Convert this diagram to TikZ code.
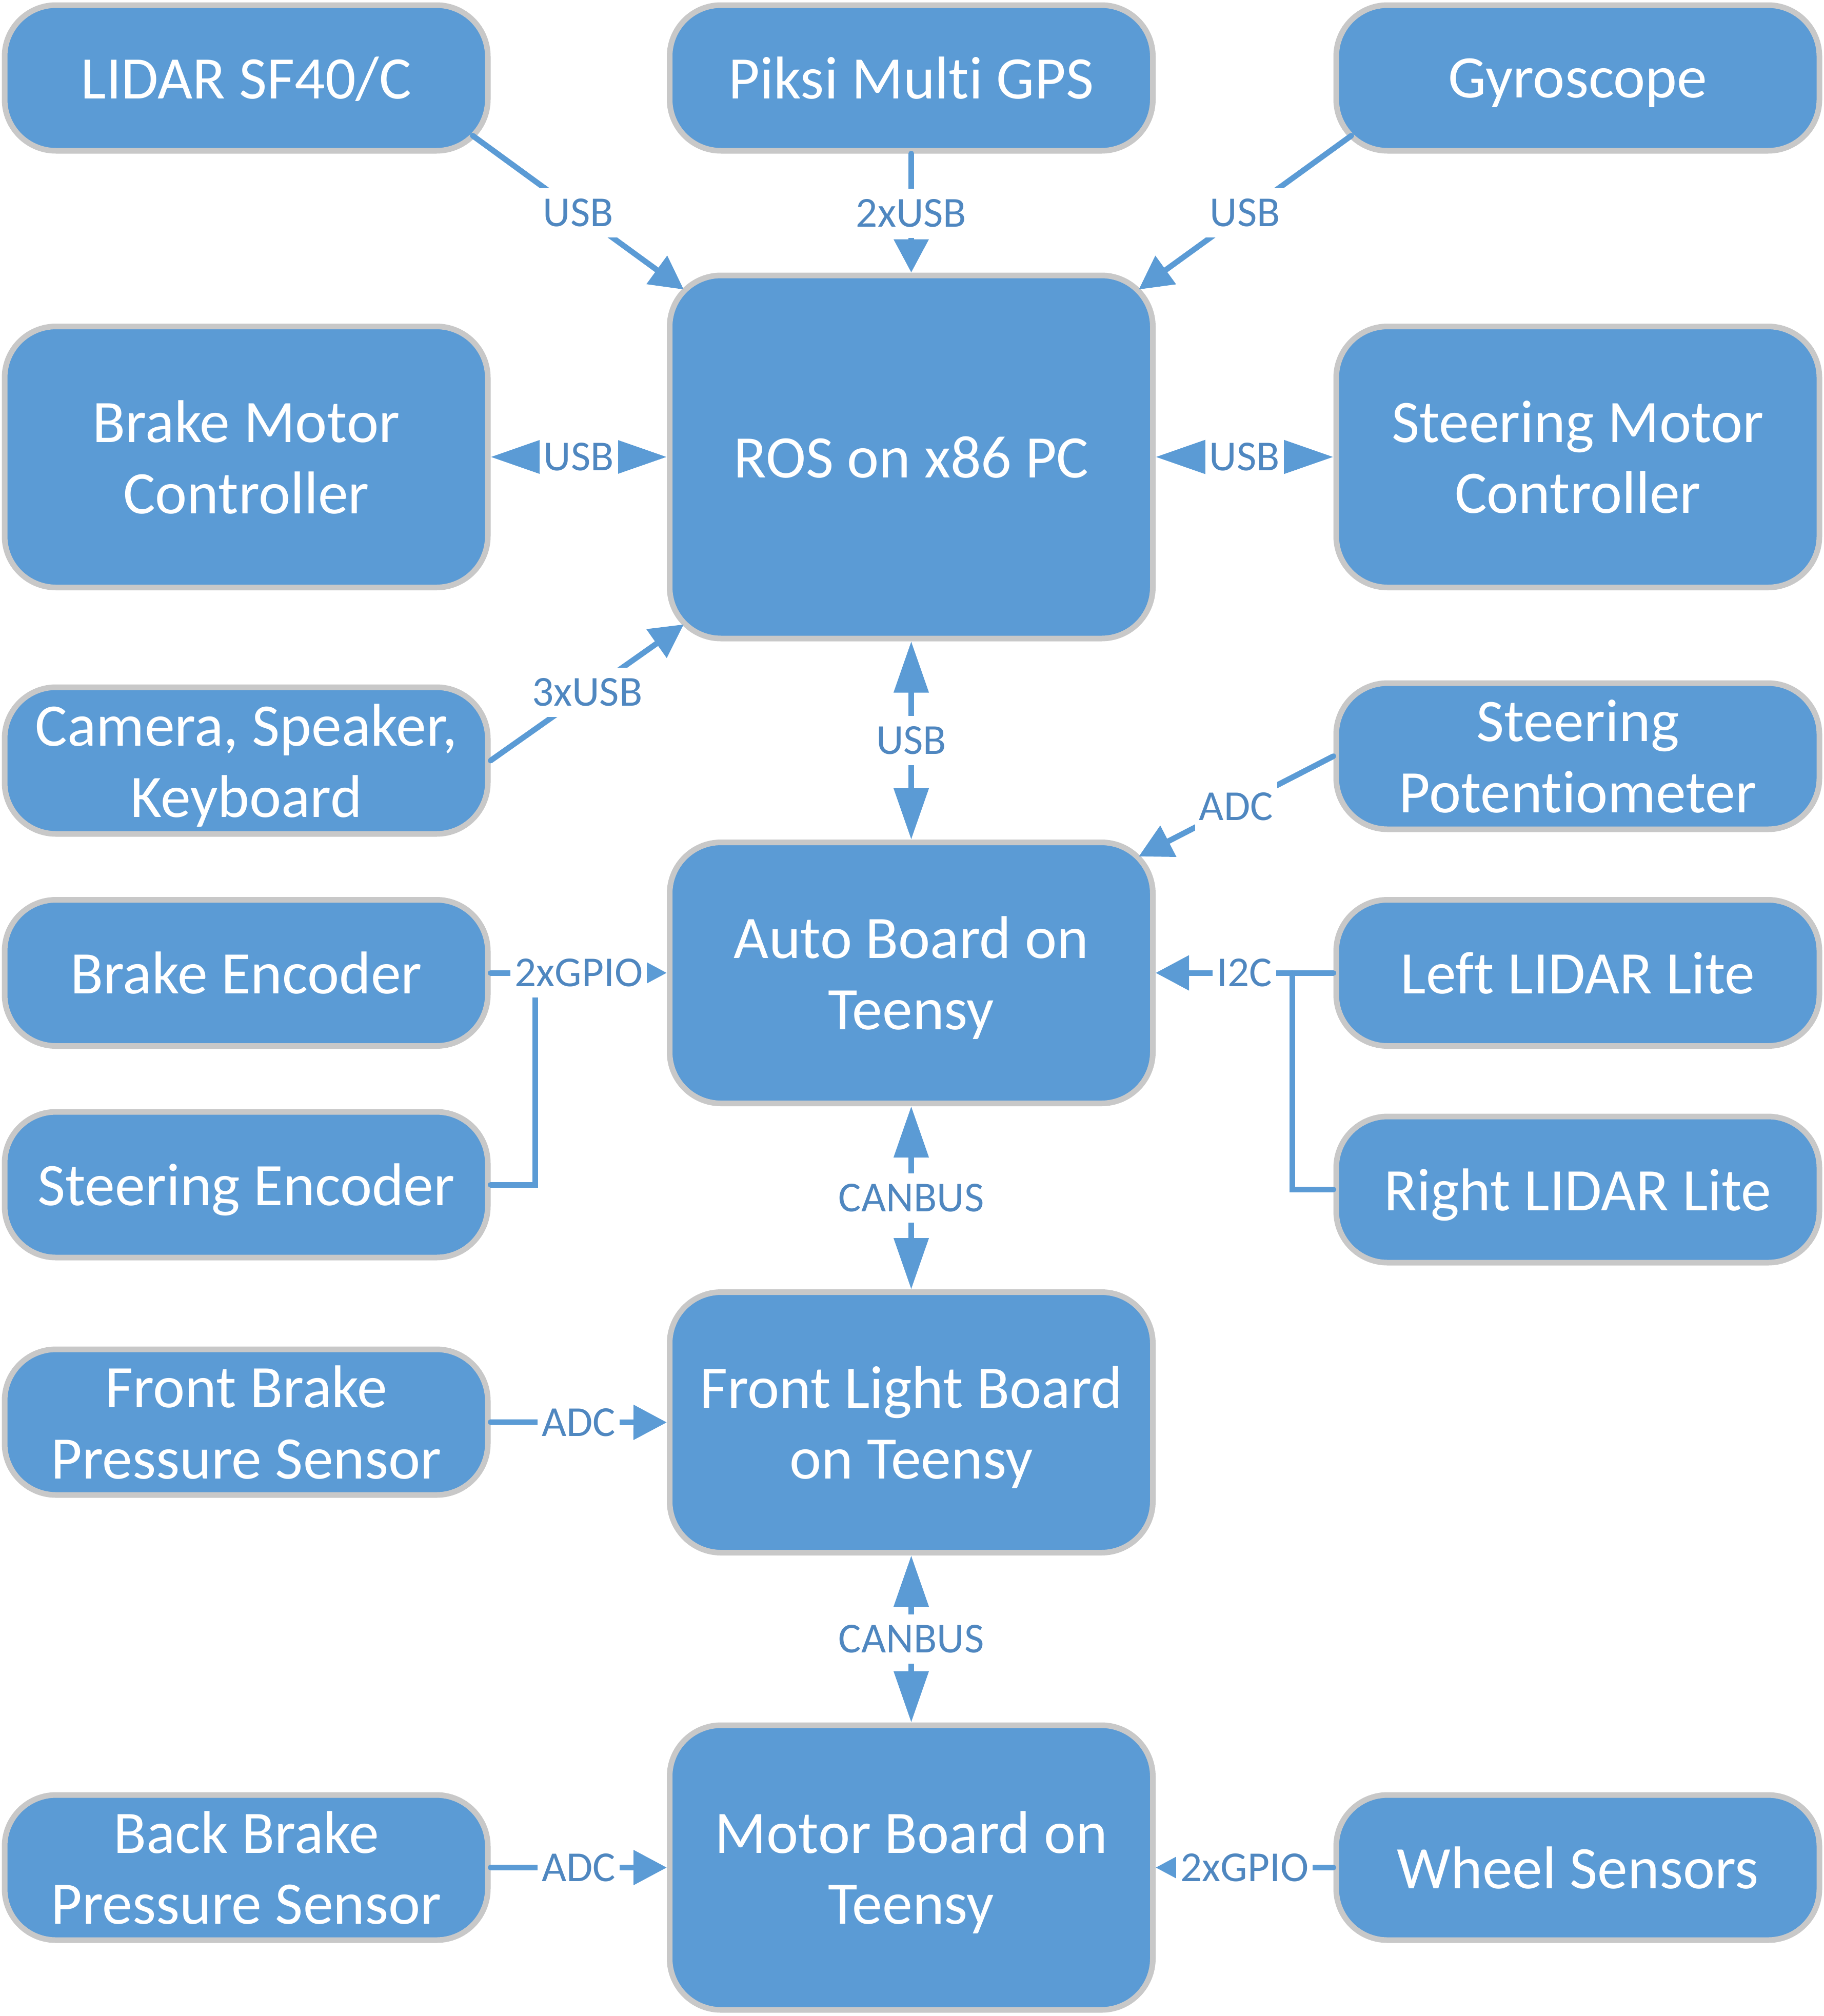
\documentclass[tikz,border=0pt]{standalone}
\usepackage{fontspec}
\setmainfont{Carlito}[Ligatures=NoCommon]
\usepackage{tikz}
\usetikzlibrary{arrows.meta}
\definecolor{boxblue}{HTML}{5B9BD5}
\definecolor{rimgray}{HTML}{C8C8C8}
\definecolor{tagblue}{HTML}{4F87C0}
\tikzset{
	block/.style={rectangle, rounded corners=1cm, draw=rimgray, line width=0.11cm, fill=boxblue, text=white,
		minimum width=9.42cm, align=center, inner sep=0pt, text depth=0pt, font=\fontsize{33.5}{39.5}\selectfont},
	wire/.style={draw=boxblue, line width=0.11cm, line cap=round, >={Triangle[length=0.65cm,width=0.66cm]}},
	twoway/.style={{Triangle[length=1cm,width=0.66cm]}-{Triangle[length=1cm,width=0.66cm]}},
	tag/.style={fill=white, text=tagblue, inner xsep=0.08cm, inner ysep=0pt, minimum height=0.96cm,
		font=\fontsize{23.7}{28}\selectfont}
}

\begin{document}
\begin{tikzpicture}
			%%%%% START %%%%%
			\useasboundingbox (0, 0) rectangle (35.56, -39.31);
			
			\node[block, minimum height=2.84cm] (lidar) at (4.80, -1.52) {LIDAR SF40/C};
			\node[block, minimum height=2.84cm] (piksi) at (17.765, -1.52) {Piksi Multi GPS};
			\node[block, minimum height=2.84cm] (gyro) at (30.76, -1.52) {Gyroscope};
			
			\node[block, minimum height=7.08cm] (ros) at (17.765, -8.91) {ROS on x86 PC};
			\node[block, minimum height=5.09cm] (brakemotor) at (4.80, -8.91) {Brake Motor\\Controller};
			\node[block, minimum height=5.09cm] (steermotor) at (30.76, -8.91) {Steering Motor\\Controller};
			
			\node[block, minimum height=2.86cm] (camera) at (4.80, -14.83) {Camera, Speaker,\\Keyboard};
			\node[block, minimum height=2.85cm] (steerpot) at (30.76, -14.745) {Steering\\Potentiometer};
			
			\node[block, minimum height=5.09cm] (autoboard) at (17.765, -18.97) {Auto Board on\\Teensy};
			\node[block, minimum height=2.85cm] (brakeenc) at (4.80, -18.97) {Brake Encoder};
			\node[block, minimum height=2.85cm] (leftlidar) at (30.76, -18.97) {Left LIDAR Lite};
			\node[block, minimum height=2.84cm] (steerenc) at (4.80, -23.10) {Steering Encoder};
			\node[block, minimum height=2.85cm] (rightlidar) at (30.76, -23.195) {Right LIDAR Lite};
			
			\node[block, minimum height=5.08cm] (lightboard) at (17.765, -27.735) {Front Light Board\\on Teensy};
			\node[block, minimum height=2.84cm] (frontbrake) at (4.80, -27.73) {Front Brake\\Pressure Sensor};
			
			\node[block, minimum height=5.55cm] (motorboard) at (17.765, -36.415) {Motor Board on\\Teensy};
			\node[block, minimum height=2.83cm] (backbrake) at (4.80, -36.415) {Back Brake\\Pressure Sensor};
			\node[block, minimum height=2.83cm] (wheel) at (30.76, -36.415) {Wheel Sensors};
			
			\coordinate (gpiojoin) at (10.43, -18.97);
			\coordinate (i2cjoin) at (25.19, -18.97);
			
			% top row into the PC
			\draw[wire, ->] ([shift={(-0.35,0.35)}]lidar.south east) -- node[tag] {USB} ([shift={(0.33,-0.33)}]ros.north west);
			\draw[wire, ->] (piksi.south) -- node[tag] {2xUSB} (ros.north);
			\draw[wire, ->] ([shift={(0.35,0.35)}]gyro.south west) -- node[tag] {USB} ([shift={(-0.33,-0.33)}]ros.north east);
			
			\draw[wire, twoway] (brakemotor.east) -- node[tag] {USB} (ros.west);
			\draw[wire, twoway] (steermotor.west) -- node[tag] {USB} (ros.east);
			\draw[wire, ->] (camera.east) -- node[tag] {3xUSB} ([shift={(0.33,0.33)}]ros.south west);
			\draw[wire, twoway] (ros.south) -- node[tag] {USB} (autoboard.north);
			
			% auto board
			\draw[wire, ->] (steerpot.west) -- node[tag] {ADC} ([shift={(-0.33,-0.33)}]autoboard.north east);
			\draw[wire] (steerenc.east) -| (gpiojoin);
			\draw[wire, ->] (brakeenc.east) -- node[tag] {2xGPIO} (autoboard.west);
			\draw[wire] (rightlidar.west) -| (i2cjoin);
			\draw[wire, ->] (leftlidar.west) -- node[tag] {I2C} (autoboard.east);
			\draw[wire, twoway] (autoboard.south) -- node[tag] {CANBUS} (lightboard.north);
			
			% lower boards
			\draw[wire, ->] (frontbrake.east) -- node[tag] {ADC} (lightboard.west);
			\draw[wire, twoway] (lightboard.south) -- node[tag] {CANBUS} (motorboard.north);
			\draw[wire, ->] (backbrake.east) -- node[tag] {ADC} (motorboard.west);
			\draw[wire, ->] (wheel.west) -- node[tag] {2xGPIO} (motorboard.east);
			
			%%%%% END %%%%%
\end{tikzpicture}
\end{document}
